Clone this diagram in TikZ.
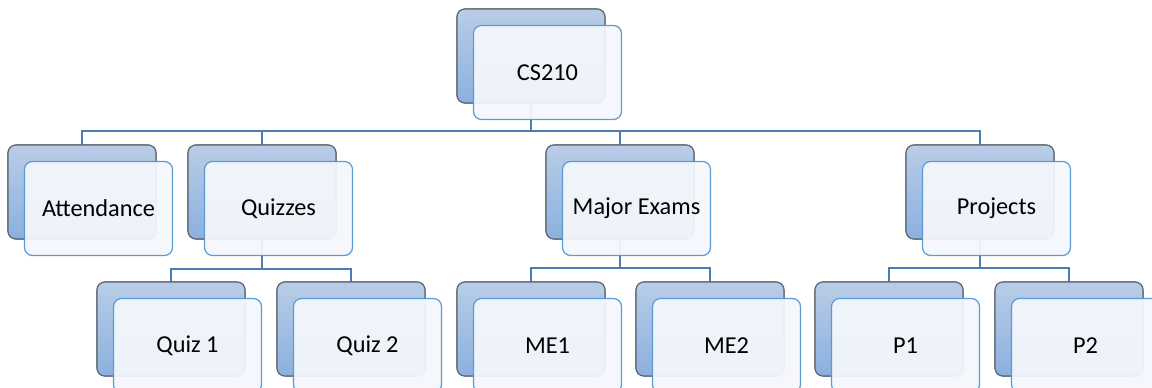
\documentclass[tikz,border=0pt]{standalone}
\usepackage{fontspec}
\setmainfont{Carlito}
\definecolor{conn}{HTML}{4A7DB5}
\definecolor{backtop}{HTML}{B9CDE7}
\definecolor{backbot}{HTML}{8BB0DE}
\definecolor{backline}{HTML}{5E6670}
\definecolor{frontfill}{HTML}{F4F7FC}
\definecolor{frontline}{HTML}{5B9BD5}
\begin{document}
\begin{tikzpicture}[x=1pt,y=-1pt,
  backbox/.style={rectangle, rounded corners=8pt, minimum width=148pt, minimum height=94pt,
    inner sep=0pt, outer sep=0pt, draw=backline, line width=1.1pt, top color=backtop, bottom color=backbot, anchor=north west},
  frontbox/.style={rectangle, rounded corners=8pt, minimum width=148pt, minimum height=94pt,
    inner sep=0pt, outer sep=0pt, draw=frontline, line width=1.2pt, fill=frontfill, fill opacity=0.94,
    text opacity=1, font=\fontsize{24.3}{29}\selectfont, xshift=16.5pt, yshift=-16.5pt},
  link/.style={draw=conn, line width=2.8pt}
]
\useasboundingbox (0,0) rectangle (1152,388);
\clip (0,0) rectangle (1152,388);
% back boxes (named, drawn first for connector anchors)
\node[backbox] (csb) at (457,9) {};
\node[backbox] (attb) at (8,145) {};
\node[backbox] (quib) at (188,145) {};
\node[backbox] (meb) at (546,145) {};
\node[backbox] (prb) at (906,145) {};
\node[backbox] (q1b) at (97,282) {};
\node[backbox] (q2b) at (277,282) {};
\node[backbox] (me1b) at (457,282) {};
\node[backbox] (me2b) at (636,282) {};
\node[backbox] (p1b) at (815,282) {};
\node[backbox] (p2b) at (995,282) {};
% connectors
\draw[link] (csb.south) -- ++(0,28) -| (attb.north);
\draw[link] (csb.south) -- ++(0,28) -| (quib.north);
\draw[link] (csb.south) -- ++(0,28) -| (meb.north);
\draw[link] (csb.south) -- ++(0,28) -| (prb.north);
\draw[link] (quib.south) -- ++(0,30) -| (q1b.north);
\draw[link] (quib.south) -- ++(0,30) -| (q2b.north);
\draw[link] (meb.south) -- ++(0,29) -| (me1b.north);
\draw[link] (meb.south) -- ++(0,29) -| (me2b.north);
\draw[link] (prb.south) -- ++(0,29) -| (p1b.north);
\draw[link] (prb.south) -- ++(0,29) -| (p2b.north);
% redraw back boxes over connector ends
\node[backbox] at (457,9) {};
\node[backbox] at (8,145) {};
\node[backbox] at (188,145) {};
\node[backbox] at (546,145) {};
\node[backbox] at (906,145) {};
\node[backbox] at (97,282) {};
\node[backbox] at (277,282) {};
\node[backbox] at (457,282) {};
\node[backbox] at (636,282) {};
\node[backbox] at (815,282) {};
\node[backbox] at (995,282) {};
% front boxes
\node[frontbox] (cs) at (csb.center) {CS210};
\node[frontbox] (att) at (attb.center) {Attendance};
\node[frontbox] (qui) at (quib.center) {Quizzes};
\node[frontbox] (me) at (meb.center) {Major Exams};
\node[frontbox] (pr) at (prb.center) {Projects};
\node[frontbox] (q1) at (q1b.center) {Quiz 1};
\node[frontbox] (q2) at (q2b.center) {Quiz 2};
\node[frontbox] (me1) at (me1b.center) {ME1};
\node[frontbox] (me2) at (me2b.center) {ME2};
\node[frontbox] (p1) at (p1b.center) {P1};
\node[frontbox] (p2) at (p2b.center) {P2};
\end{tikzpicture}
\end{document}
